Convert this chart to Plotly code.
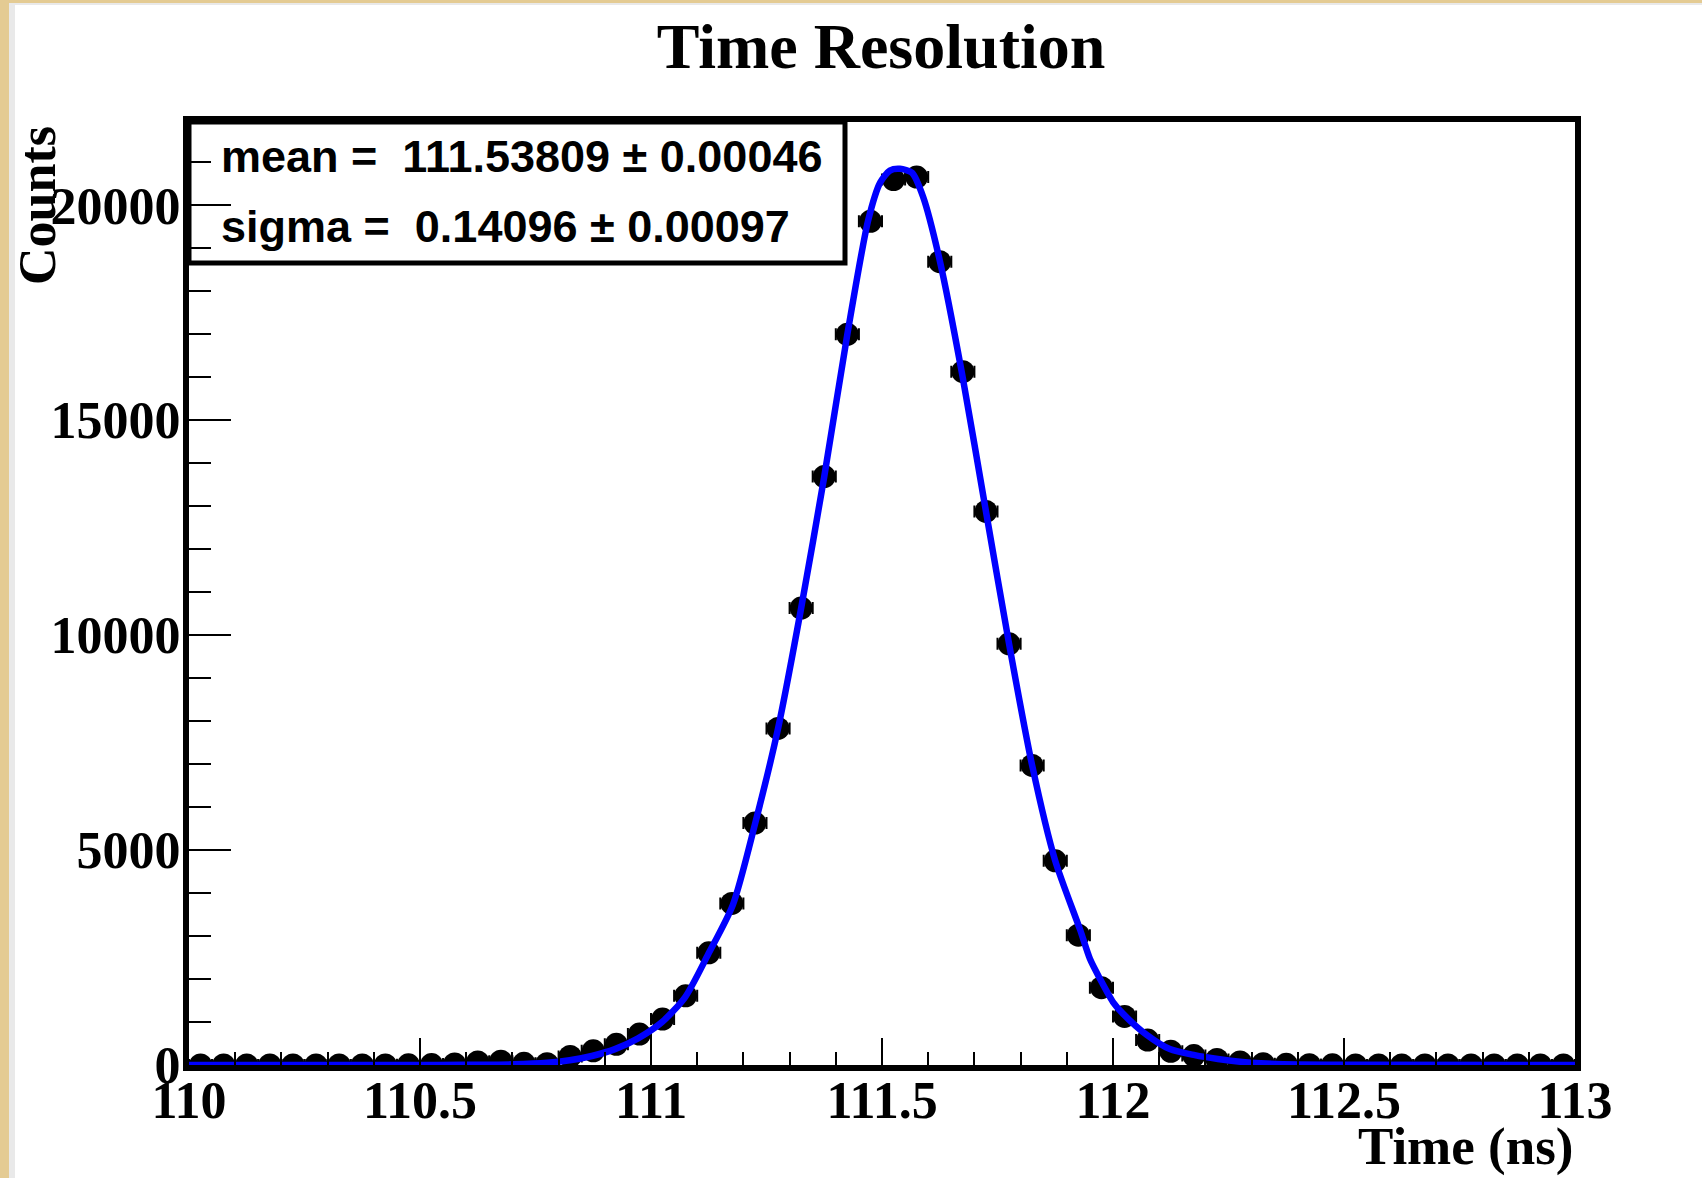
import plotly.graph_objects as go

# ---- data ----
bin_centers = [
    110.025, 110.075, 110.125, 110.175, 110.225, 110.275, 110.325, 110.375, 110.425, 110.475,
    110.525, 110.575, 110.625, 110.675, 110.725, 110.775, 110.825, 110.875, 110.925, 110.975,
    111.025, 111.075, 111.125, 111.175, 111.225, 111.275, 111.325, 111.375, 111.425, 111.475,
    111.525, 111.575, 111.625, 111.675, 111.725, 111.775, 111.825, 111.875, 111.925, 111.975,
    112.025, 112.075, 112.125, 112.175, 112.225, 112.275, 112.325, 112.375, 112.425, 112.475,
    112.525, 112.575, 112.625, 112.675, 112.725, 112.775, 112.825, 112.875, 112.925, 112.975,
]
counts = [
    0, 0, 0, 0, 0, 0, 0, 0, 0, 5,
    10, 25, 70, 90, 40, 30, 200, 330, 480, 720,
    1070, 1610, 2610, 3760, 5630, 7830, 10630, 13690, 17000, 19630,
    20600, 20660, 18690, 16130, 12880, 9800, 6970, 4750, 3020, 1800,
    1130, 580, 320, 220, 130, 70, 30, 15, 8, 5,
    0, 0, 0, 0, 0, 0, 0, 0, 0, 0,
]
bin_half_width = 0.025

# fitted curve
fit_x = [110.0, 110.5, 110.6, 110.7, 110.775, 110.824, 110.872, 110.922, 110.972, 111.024,
         111.074, 111.124, 111.177, 111.225, 111.275, 111.325, 111.375, 111.425, 111.47, 111.496,
         111.517, 111.539, 111.565, 111.589, 111.625, 111.673, 111.725, 111.775, 111.825, 111.875,
         111.929, 111.95, 111.972, 112.0, 112.022, 112.073, 112.123, 112.177, 112.227, 112.28,
         112.32, 112.4, 112.5, 113.0]
fit_y = [0, 0, 3, 15, 50, 110, 210, 370, 620, 1000,
         1580, 2580, 3720, 5600, 7830, 10630, 13690, 17000, 19650, 20530,
         20810, 20850, 20760, 20200, 18720, 16100, 12880, 9800, 6970, 4750,
         3140, 2470, 2000, 1465, 1190, 700, 370, 230, 140, 70,
         40, 12, 3, 0]

y_tick_values = [0, 5000, 10000, 15000, 20000]
y_tick_labels = ["0", "5000", "10000", "15000", "20000"]
x_tick_values = [110, 110.5, 111, 111.5, 112, 112.5, 113]
x_tick_labels = ["110", "110.5", "111", "111.5", "112", "112.5", "113"]

title_text = "Time Resolution"
x_title = "Time (ns)"
y_title = "Counts"
stats_lines = ["mean =\u00a0\u00a0111.53809 \u00b1 0.00046",
               "sigma =\u00a0\u00a00.14096 \u00b1 0.00097"]

# ---- geometry (pixels) ----
W, H = 1702, 1178
L, R, T, B = 189, 1575, 122, 1065
pw, ph = R - L, B - T


def px(x):
    return (x - L) / pw


def py(y):
    return (B - y) / ph


serif = "Liberation Serif"
sans = "Liberation Sans"

fig = go.Figure()
fig.add_trace(go.Scatter(
    x=bin_centers, y=counts, mode="markers",
    marker=dict(color="black", size=23, symbol="circle"),
    error_x=dict(type="constant", value=bin_half_width, color="black", thickness=2, width=6),
    showlegend=False, hoverinfo="skip",
))
fig.add_trace(go.Scatter(
    x=fit_x, y=fit_y, mode="lines",
    line=dict(color="#0000ff", width=6.5, shape="spline", smoothing=0.7),
    showlegend=False, hoverinfo="skip",
))

tickfont = dict(family=serif, size=52, color="black", weight="bold")

fig.update_layout(
    width=W, height=H, autosize=False,
    margin=dict(l=L, r=W - R, t=T, b=H - B, pad=0),
    paper_bgcolor="white", plot_bgcolor="white",
    title=dict(text=title_text, x=881 / W, xref="container", xanchor="center",
               y=1 - 46 / H, yref="container", yanchor="middle",
               font=dict(family=serif, size=64, color="black", weight="bold")),
    xaxis=dict(range=[110, 113], showgrid=False, zeroline=False,
               showline=True, linecolor="black", linewidth=6, mirror=True,
               ticks="inside", tickwidth=2, ticklen=27, tickcolor="black",
               tickmode="array", tickvals=x_tick_values, ticktext=x_tick_labels,
               tickfont=tickfont, ticklabelstandoff=-15,
               minor=dict(ticks="inside", tickmode="linear", tick0=110, dtick=0.1,
                          ticklen=13, tickwidth=2, tickcolor="black"),
               automargin=False),
    yaxis=dict(range=[0, 21940], showgrid=False, zeroline=False,
               showline=True, linecolor="black", linewidth=6, mirror=True,
               ticks="inside", tickwidth=2, ticklen=42, tickcolor="black",
               tickmode="array", tickvals=y_tick_values, ticktext=y_tick_labels,
               tickfont=tickfont, ticklabelstandoff=-8,
               minor=dict(ticks="inside", tickmode="linear", tick0=0, dtick=1000,
                          ticklen=22, tickwidth=2, tickcolor="black"),
               automargin=False),
)

shapes = [
    # wooden / gray page border
    dict(type="rect", xref="paper", yref="paper", x0=px(0), x1=px(9), y0=py(H), y1=py(0),
         fillcolor="#E4CB93", line=dict(width=0), layer="below"),
    dict(type="rect", xref="paper", yref="paper", x0=px(9), x1=px(15), y0=py(H), y1=py(4),
         fillcolor="#E9E9E9", line=dict(width=0), layer="below"),
    dict(type="rect", xref="paper", yref="paper", x0=px(0), x1=px(W), y0=py(3), y1=py(0),
         fillcolor="#E4CB93", line=dict(width=0), layer="below"),
    dict(type="rect", xref="paper", yref="paper", x0=px(9), x1=px(W), y0=py(5), y1=py(3),
         fillcolor="#E9E9E9", line=dict(width=0), layer="below"),
    # stats box
    dict(type="rect", xref="paper", yref="paper", x0=0, x1=px(845), y0=py(263), y1=1,
         fillcolor="rgba(0,0,0,0)", line=dict(color="black", width=5), layer="above"),
]
fig.update_layout(shapes=shapes)

annotations = [
    dict(text=stats_lines[0], x=px(219), y=py(157), xref="paper", yref="paper",
         xanchor="left", yanchor="middle", showarrow=False,
         font=dict(family=sans, size=45, color="black", weight="bold")),
    dict(text=stats_lines[1], x=px(219), y=py(227), xref="paper", yref="paper",
         xanchor="left", yanchor="middle", showarrow=False,
         font=dict(family=sans, size=45, color="black", weight="bold")),
    dict(text=x_title, x=1, y=py(1146), xref="paper", yref="paper",
         xanchor="right", yanchor="middle", showarrow=False,
         font=dict(family=serif, size=53, color="black", weight="bold")),
    dict(text=y_title, x=px(38), y=py(206), xref="paper", yref="paper",
         xanchor="center", yanchor="middle", showarrow=False, textangle=-90,
         font=dict(family=serif, size=52, color="black", weight="bold")),
]
fig.update_layout(annotations=annotations)

fig.write_html("out.html")
